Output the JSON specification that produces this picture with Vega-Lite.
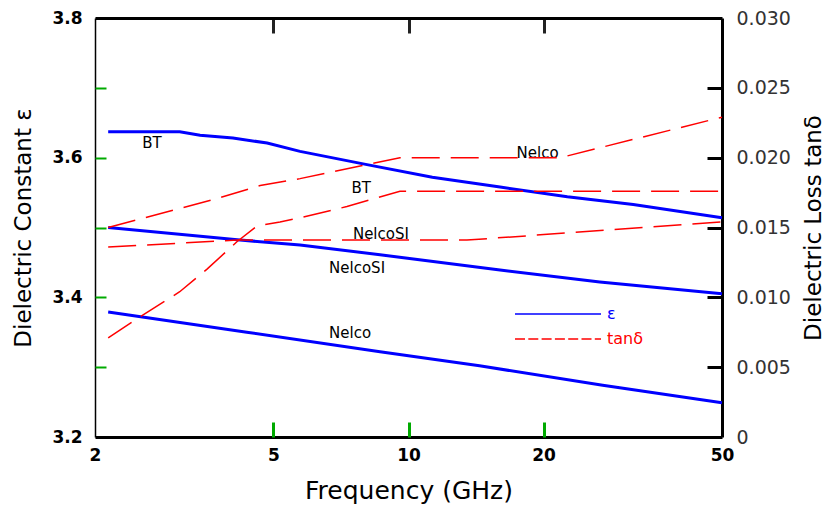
{
  "$schema": "https://vega.github.io/schema/vega-lite/v6.json",
  "width": 627,
  "height": 419,
  "autosize": {"type": "none"},
  "padding": {"left": 95, "top": 18, "right": 112, "bottom": 76},
  "background": "white",
  "config": {
    "view": {"stroke": null},
    "font": "DejaVu Sans",
    "axis": {"grid": false, "domainColor": "black", "labelColor": "black", "titleColor": "black", "titleFontWeight": "normal", "zindex": 1}
  },
  "datasets": {
    "curves": [
      {"material": "BT", "kind": "ε", "f": 2.14, "v": 3.637},
      {"material": "BT", "kind": "ε", "f": 3.09, "v": 3.637},
      {"material": "BT", "kind": "ε", "f": 3.43, "v": 3.632},
      {"material": "BT", "kind": "ε", "f": 4.06, "v": 3.628},
      {"material": "BT", "kind": "ε", "f": 4.84, "v": 3.621},
      {"material": "BT", "kind": "ε", "f": 5.73, "v": 3.609},
      {"material": "BT", "kind": "ε", "f": 8.08, "v": 3.590},
      {"material": "BT", "kind": "ε", "f": 11.3, "v": 3.572},
      {"material": "BT", "kind": "ε", "f": 16.0, "v": 3.558},
      {"material": "BT", "kind": "ε", "f": 22.6, "v": 3.544},
      {"material": "BT", "kind": "ε", "f": 31.7, "v": 3.533},
      {"material": "BT", "kind": "ε", "f": 50, "v": 3.514},
      {"material": "NelcoSI", "kind": "ε", "f": 2.14, "v": 3.500},
      {"material": "NelcoSI", "kind": "ε", "f": 4.21, "v": 3.482},
      {"material": "NelcoSI", "kind": "ε", "f": 5.73, "v": 3.475},
      {"material": "NelcoSI", "kind": "ε", "f": 8.64, "v": 3.461},
      {"material": "NelcoSI", "kind": "ε", "f": 16.0, "v": 3.439},
      {"material": "NelcoSI", "kind": "ε", "f": 26.7, "v": 3.422},
      {"material": "NelcoSI", "kind": "ε", "f": 50, "v": 3.405},
      {"material": "Nelco", "kind": "ε", "f": 2.14, "v": 3.379},
      {"material": "Nelco", "kind": "ε", "f": 4.36, "v": 3.350},
      {"material": "Nelco", "kind": "ε", "f": 8.64, "v": 3.322},
      {"material": "Nelco", "kind": "ε", "f": 14.4, "v": 3.302},
      {"material": "Nelco", "kind": "ε", "f": 27.1, "v": 3.274},
      {"material": "Nelco", "kind": "ε", "f": 50, "v": 3.249},
      {"material": "Nelco", "kind": "tanδ", "f": 2.14, "v": 0.0150},
      {"material": "Nelco", "kind": "tanδ", "f": 3.67, "v": 0.0170},
      {"material": "Nelco", "kind": "tanδ", "f": 4.67, "v": 0.0180},
      {"material": "Nelco", "kind": "tanδ", "f": 5.73, "v": 0.0185},
      {"material": "Nelco", "kind": "tanδ", "f": 9.57, "v": 0.0200},
      {"material": "Nelco", "kind": "tanδ", "f": 21.8, "v": 0.0200},
      {"material": "Nelco", "kind": "tanδ", "f": 50, "v": 0.0229},
      {"material": "BT", "kind": "tanδ", "f": 2.14, "v": 0.0071},
      {"material": "BT", "kind": "tanδ", "f": 2.52, "v": 0.0086},
      {"material": "BT", "kind": "tanδ", "f": 3.09, "v": 0.0104},
      {"material": "BT", "kind": "tanδ", "f": 3.55, "v": 0.0120},
      {"material": "BT", "kind": "tanδ", "f": 4.15, "v": 0.0140},
      {"material": "BT", "kind": "tanδ", "f": 4.59, "v": 0.0151},
      {"material": "BT", "kind": "tanδ", "f": 5.17, "v": 0.0154},
      {"material": "BT", "kind": "tanδ", "f": 5.73, "v": 0.0157},
      {"material": "BT", "kind": "tanδ", "f": 7.29, "v": 0.0165},
      {"material": "BT", "kind": "tanδ", "f": 9.57, "v": 0.0176},
      {"material": "BT", "kind": "tanδ", "f": 50, "v": 0.0176},
      {"material": "NelcoSI", "kind": "tanδ", "f": 2.14, "v": 0.0136},
      {"material": "NelcoSI", "kind": "tanδ", "f": 4.15, "v": 0.0141},
      {"material": "NelcoSI", "kind": "tanδ", "f": 13.5, "v": 0.0141},
      {"material": "NelcoSI", "kind": "tanδ", "f": 50, "v": 0.0154}
    ],
    "labels": [
      {"label": "BT", "f": 2.68, "v": 3.621},
      {"label": "Nelco", "f": 19.4, "v": 3.607},
      {"label": "BT", "f": 7.84, "v": 3.557},
      {"label": "NelcoSI", "f": 8.68, "v": 3.491},
      {"label": "NelcoSI", "f": 7.68, "v": 3.442},
      {"label": "Nelco", "f": 7.41, "v": 3.349}
    ]
  },
  "layer": [
    {
      "layer": [
        {
          "data": {"name": "curves"},
          "transform": [{"filter": "datum.kind === 'ε'"}],
          "mark": {"type": "line", "strokeWidth": 3},
          "encoding": {
            "x": {
              "field": "f", "type": "quantitative",
              "scale": {"type": "log", "domain": [2, 50]},
              "axis": {
                "orient": "bottom", "values": [2, 5, 10, 20, 50],
                "labelExpr": "format(datum.value, 'd')",
                "labelFlush": false, "labelFontSize": 17, "labelFontWeight": "bold",
                "labelPadding": 10, "ticks": false,
                "domainWidth": 3, "title": "Frequency (GHz)", "titleFontSize": 25,
                "titlePadding": 15
              }
            },
            "y": {
              "field": "v", "type": "quantitative",
              "scale": {"domain": [3.2, 3.8], "zero": false},
              "axis": {
                "orient": "left", "values": [3.2, 3.4, 3.6, 3.8],
                "labelExpr": "format(datum.value, '.1f')",
                "labelFlush": false, "labelFontSize": 17, "labelFontWeight": "bold",
                "labelPadding": 13, "ticks": false,
                "domainWidth": 1.5, "title": "Dielectric Constant ε", "titleFontSize": 23,
                "titlePadding": 16
              }
            },
            "color": {
              "field": "kind", "type": "nominal",
              "scale": {"domain": ["ε", "tanδ"], "range": ["#0000ff", "#ff0000"]},
              "legend": {
                "orient": "none", "legendX": 419, "legendY": 287.5, "title": null,
                "symbolType": "stroke", "symbolSize": 7396, "symbolStrokeWidth": 1.5,
                "clipHeight": 17, "rowPadding": 8,
                "labelFontSize": 16, "labelOffset": 5,
                "encode": {
                  "labels": {"update": {"fill": {"signal": "datum.label === 'ε' ? '#0000ff' : '#ff0000'"}}},
                  "symbols": {"update": {"strokeDash": {"signal": "datum.label === 'ε' ? [] : [10, 3.3]"}}}
                }
              }
            },
            "detail": {"field": "material"}
          }
        },
        {
          "data": {"name": "labels"},
          "mark": {"type": "text", "fontSize": 15, "color": "black", "font": "DejaVu Sans"},
          "encoding": {
            "x": {
              "field": "f", "type": "quantitative", "scale": {"type": "log", "domain": [2, 50]},
              "axis": {
                "orient": "top", "offset": -419, "values": [5, 10, 20], "labels": false,
                "domain": false, "title": null, "ticks": true, "tickWidth": 3, "tickColor": "#00aa00", "tickOpacity": 1,
                "tickSize": 15
              }
            },
            "y": {
              "field": "v", "type": "quantitative", "scale": {"domain": [3.2, 3.8], "zero": false},
              "axis": {
                "orient": "right", "offset": -627, "values": [3.3, 3.4, 3.5, 3.6, 3.7], "labels": false,
                "domain": false, "title": null, "ticks": true, "tickWidth": 2, "tickColor": "#00aa00", "tickOpacity": 1, "tickSize": 11
              }
            },
            "text": {"field": "label"}
          }
        }
      ],
      "resolve": {"axis": {"x": "independent", "y": "independent"}}
    },
    {
      "layer": [
        {
          "data": {"name": "curves"},
          "transform": [{"filter": "datum.kind === 'tanδ' && datum.material !== 'NelcoSI'"}],
          "mark": {"type": "line", "strokeWidth": 1.5, "strokeDash": [28, 11]},
          "encoding": {
            "x": {
              "field": "f", "type": "quantitative",
              "scale": {"type": "log", "domain": [2, 50]},
              "axis": {
                "orient": "bottom", "offset": -419, "values": [5, 10, 20], "labels": false,
                "domainWidth": 3, "title": null, "ticks": true, "tickWidth": 3, "tickColor": "#222222", "tickOpacity": 1,
                "tickSize": 15
              }
            },
            "y": {
              "field": "v", "type": "quantitative",
              "scale": {"domain": [0, 0.03]},
              "axis": {
                "orient": "right", "values": [0, 0.005, 0.01, 0.015, 0.02, 0.025, 0.03],
                "labelExpr": "datum.value === 0 ? '0' : format(datum.value, '.3f')",
                "labelFlush": false, "labelFontSize": 19, "labelColor": "#333333",
                "labelPadding": 14, "ticks": false,
                "domainWidth": 3, "title": "Dielectric Loss tanδ", "titleFontSize": 23,
                "titleAngle": 270, "titleBaseline": "top", "titlePadding": 12
              }
            },
            "color": {"field": "kind", "type": "nominal", "scale": {"domain": ["ε", "tanδ"], "range": ["#0000ff", "#ff0000"]}},
            "detail": {"field": "material"}
          }
        },
        {
          "data": {"name": "curves"},
          "transform": [{"filter": "datum.kind === 'tanδ' && datum.material === 'NelcoSI'"}],
          "mark": {"type": "line", "strokeWidth": 1.5, "strokeDash": [28, 11]},
          "encoding": {
            "x": {
              "field": "f", "type": "quantitative",
              "scale": {"type": "log", "domain": [2, 50]},
              "axis": null
            },
            "y": {
              "field": "v", "type": "quantitative",
              "scale": {"domain": [0, 0.03]},
              "axis": {
                "orient": "left", "offset": -627, "values": [0.005, 0.01, 0.015, 0.02, 0.025], "labels": false,
                "domain": false, "title": null, "ticks": true, "tickWidth": 3, "tickColor": "black", "tickOpacity": 1, "tickSize": 15
              }
            },
            "color": {"field": "kind", "type": "nominal", "scale": {"domain": ["ε", "tanδ"], "range": ["#0000ff", "#ff0000"]}},
            "detail": {"field": "material"}
          }
        }
      ],
      "resolve": {"axis": {"x": "independent", "y": "independent"}}
    }
  ],
  "resolve": {"scale": {"y": "independent"}, "axis": {"x": "independent", "y": "independent"}}
}
